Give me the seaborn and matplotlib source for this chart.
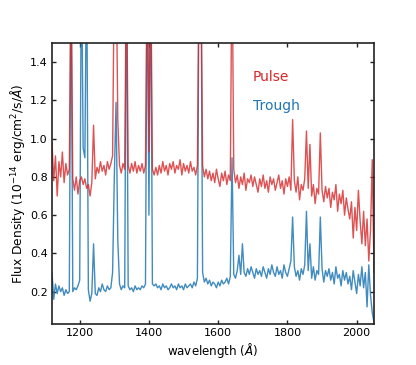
import numpy as np
import matplotlib
matplotlib.use("Agg")
import matplotlib.pyplot as plt
import seaborn as sns

sns.set_style("ticks", {"xtick.direction": "in", "ytick.direction": "in",
                        "text.color": "black", "axes.labelcolor": "black",
                        "xtick.color": "black", "ytick.color": "black"})
plt.rcParams['font.family'] = ['DejaVu Sans']

# wavelength grid (Angstrom), 5 A steps from 1120 to 2050
wavelength = np.arange(1120, 2051, 5)

# pulse spectrum (10^-14 erg/cm^2/s/A)
pulse = [
    0.98, 0.78, 0.91, 0.70, 0.88, 0.80, 0.93, 0.77, 0.87, 0.81,
    0.84, 1.90, 0.79, 0.73, 0.80, 0.71, 0.78, 0.80, 0.76, 0.79,
    0.74, 0.76, 0.70, 0.77, 1.07, 0.79, 0.85, 0.82, 0.88, 0.83,
    0.86, 0.81, 0.88, 0.84, 0.87, 0.91, 1.90, 2.00, 1.10, 0.86,
    0.82, 0.87, 0.84, 2.00, 0.86, 0.82, 0.87, 0.83, 0.88, 0.82,
    0.86, 0.83, 0.87, 0.82, 0.86, 2.00, 0.93, 2.00, 0.84, 0.81,
    0.85, 0.81, 0.86, 0.82, 0.88, 0.83, 0.86, 0.81, 0.87, 0.84,
    0.88, 0.82, 0.86, 0.84, 0.89, 0.81, 0.87, 0.83, 0.86, 0.82,
    0.88, 0.83, 0.85, 0.81, 0.86, 2.00, 2.00, 0.86, 0.80, 0.84,
    0.79, 0.83, 0.78, 0.82, 0.77, 0.84, 0.79, 0.75, 0.82, 0.78,
    0.83, 0.76, 0.81, 0.78, 2.00, 0.84, 0.77, 0.81, 0.74, 0.80,
    0.76, 0.82, 0.73, 0.79, 0.77, 0.81, 0.75, 0.80, 0.76, 0.72,
    0.79, 0.75, 0.81, 0.74, 0.78, 0.72, 0.80, 0.76, 0.79, 0.73,
    0.77, 0.81, 0.74, 0.78, 0.71, 0.79, 0.75, 0.80, 0.73, 1.10,
    0.78, 0.72, 0.80, 0.68, 0.76, 0.73, 0.79, 1.04, 0.74, 0.97,
    0.70, 0.76, 0.66, 0.74, 0.71, 1.03, 0.73, 0.67, 0.75, 0.69,
    0.74, 0.64, 0.72, 0.68, 0.76, 0.62, 0.71, 0.66, 0.73, 0.60,
    0.69, 0.63, 0.58, 0.67, 0.48, 0.64, 0.52, 0.73, 0.57, 0.45,
    0.62, 0.44, 0.58, 0.36, 0.52, 0.89, 0.30,
]

# trough spectrum
trough = [
    0.30, 0.16, 0.24, 0.19, 0.23, 0.20, 0.22, 0.18, 0.21, 0.19,
    0.20, 2.00, 0.20, 0.22, 0.21, 0.23, 0.26, 2.00, 0.95, 0.90,
    2.00, 0.21, 0.15, 0.19, 0.45, 0.19, 0.18, 0.22, 0.20, 0.24,
    0.21, 0.20, 0.23, 0.21, 0.22, 0.30, 0.80, 1.19, 0.47, 0.24,
    0.21, 0.23, 0.22, 2.00, 0.23, 0.21, 0.22, 0.20, 0.23, 0.21,
    0.22, 0.21, 0.23, 0.22, 0.24, 2.00, 0.60, 2.00, 0.24, 0.23,
    0.24, 0.22, 0.23, 0.21, 0.24, 0.22, 0.23, 0.21, 0.22, 0.24,
    0.22, 0.23, 0.21, 0.24, 0.22, 0.23, 0.21, 0.24, 0.22, 0.23,
    0.24, 0.22, 0.25, 0.23, 0.27, 2.00, 2.00, 0.30, 0.25, 0.27,
    0.24, 0.26, 0.23, 0.25, 0.24, 0.22, 0.25, 0.23, 0.26, 0.24,
    0.25, 0.27, 0.24, 0.28, 0.90, 0.29, 0.27, 0.31, 0.39, 0.29,
    0.45, 0.30, 0.28, 0.32, 0.29, 0.33, 0.30, 0.27, 0.32, 0.29,
    0.31, 0.28, 0.33, 0.30, 0.27, 0.32, 0.29, 0.34, 0.30, 0.28,
    0.33, 0.29, 0.31, 0.27, 0.34, 0.30, 0.28, 0.32, 0.36, 0.59,
    0.33, 0.28, 0.31, 0.26, 0.32, 0.29, 0.34, 0.62, 0.31, 0.45,
    0.27, 0.33, 0.26, 0.31, 0.29, 0.59, 0.32, 0.25, 0.31, 0.28,
    0.32, 0.26, 0.30, 0.24, 0.33, 0.27, 0.29, 0.23, 0.31, 0.26,
    0.30, 0.24, 0.28, 0.21, 0.31, 0.25, 0.19, 0.29, 0.23, 0.33,
    0.22, 0.30, 0.12, 0.34, 0.18, 0.09, 0.04,
]

fig = plt.figure(figsize=(4.16, 3.65), dpi=100)
ax = fig.add_axes([0.125, 0.112, 0.774, 0.770])

sns.lineplot(x=wavelength, y=trough, color='#1f77b4', lw=1.0, alpha=0.85, ax=ax)
sns.lineplot(x=wavelength, y=pulse, color='#d62728', lw=1.0, alpha=0.8, ax=ax)

ax.text(1700, 1.325, 'Pulse', color='#d62728', fontsize=10, va='center')
ax.text(1700, 1.17, 'Trough', color='#1f77b4', fontsize=10, va='center')

ax.set_xlim(1120, 2050)
ax.set_ylim(0.03, 1.5)
ax.set_xticks([1200, 1400, 1600, 1800, 2000])
ax.set_yticks([0.2, 0.4, 0.6, 0.8, 1.0, 1.2, 1.4])
ax.tick_params(top=True, right=True, labelsize=8, length=3, width=1,
               color='#222222', pad=3)
for s in ax.spines.values():
    s.set_linewidth(1.2)
    s.set_color('#222222')

ax.set_xlabel(r'wavelength ($\AA$)', fontsize=8.6, labelpad=2)
ax.set_ylabel(r'Flux Density ($10^{-14}$ erg/cm$^2$/s/$\AA$)', fontsize=8.8,
              labelpad=2)

fig.savefig('out.png', dpi=100)
